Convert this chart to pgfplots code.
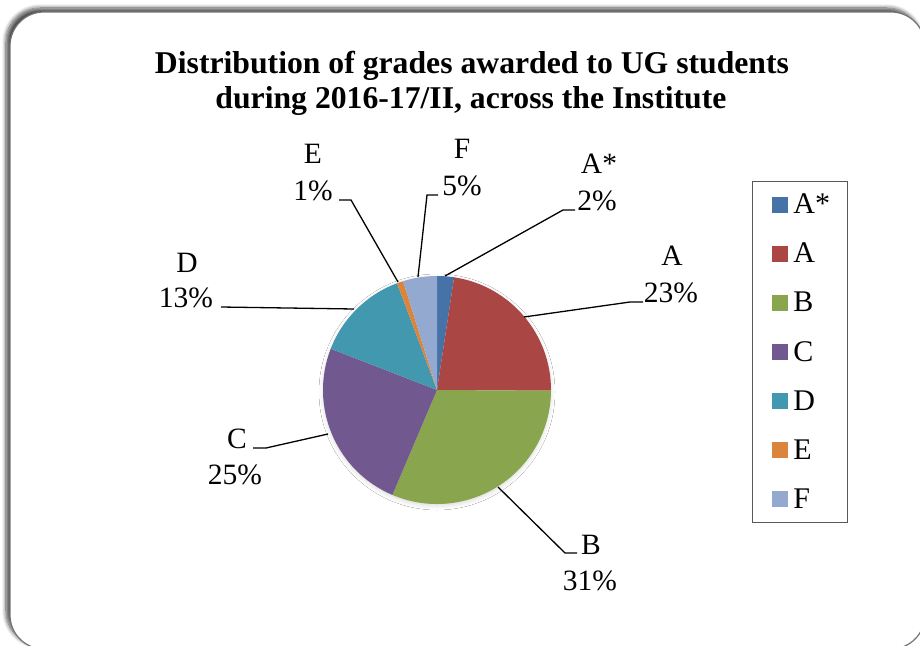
\documentclass[border=0pt]{standalone}
\usepackage{pgfplots}
\pgfplotsset{compat=1.18}
\usepackage{pgfplotstable}
\usepackage{fontspec}
\setmainfont{Liberation Serif}
\usetikzlibrary{shadows.blur}
\definecolor{cAs}{HTML}{4572A7}
\definecolor{cA}{HTML}{AA4643}
\definecolor{cB}{HTML}{89A54E}
\definecolor{cC}{HTML}{71588F}
\definecolor{cD}{HTML}{4198AF}
\definecolor{cE}{HTML}{DB843D}
\definecolor{cF}{HTML}{93A9CF}
\pgfplotstableread{
grade value col
A* 2.4 cAs
A 22.7 cA
B 31.3 cB
C 24.5 cC
D 13.4 cD
E 0.9 cE
F 4.8 cF
}\piedata
\newcommand{\lblfont}{\fontsize{29.5}{36}\selectfont}
\begin{document}
\begin{tikzpicture}[x=1pt,y=1pt]
\useasboundingbox (0,0) rectangle (920,645);
\draw[rounded corners=34pt, line width=1.2pt, draw=black!55, fill=white,
  blur shadow={shadow xshift=-4pt, shadow yshift=4pt, shadow blur radius=4pt, shadow blur steps=8, shadow opacity=70}]
  (10,-4) rectangle (925,633);
\begin{axis}[at={(0,0)}, anchor=south west, width=920pt, height=645pt, scale only axis,
  xmin=0, xmax=920, ymin=0, ymax=645, y dir=reverse, hide axis, clip=false,
  legend style={at={(axis cs:752,181)}, anchor=north west, draw=black!65, line width=0.8pt,
    font=\fontsize{30}{32}\selectfont, inner xsep=0pt, inner ysep=10.5pt,
    row sep=23.9pt, cells={anchor=west}},
  legend image code/.code={\path[draw=none,fill=none] (0pt,0pt) rectangle (39pt,0pt);
    \fill[#1,draw=none] (20pt,-8pt) rectangle (36pt,8pt);},
]
\fill[white, blur shadow={shadow xshift=0pt, shadow yshift=-2pt, shadow blur radius=5pt, shadow opacity=18}]
  (axis cs:437,390) circle[radius=113pt];
\pgfmathsetmacro{\cum}{0}
\pgfplotsforeachungrouped \i in {0,...,6}{%
  \pgfplotstablegetelem{\i}{value}\of\piedata \let\v=\pgfplotsretval
  \pgfplotstablegetelem{\i}{col}\of\piedata \let\c=\pgfplotsretval
  \pgfmathsetmacro{\sa}{90-3.6*\cum}%
  \pgfmathsetmacro{\ea}{90-3.6*(\cum+\v)}%
  \edef\temp{\noexpand\fill[fill=\c] (axis cs:437,390) -- ++(\sa:114pt) arc[start angle=\sa, end angle=\ea, radius=114pt] -- cycle;}%
  \temp
  \pgfmathsetmacro{\cum}{\cum+\v}%
}
\addlegendimage{fill=cAs}\addlegendentry{A*\hspace*{15pt}}
\addlegendimage{fill=cA}\addlegendentry{A}
\addlegendimage{fill=cB}\addlegendentry{B}
\addlegendimage{fill=cC}\addlegendentry{C}
\addlegendimage{fill=cD}\addlegendentry{D}
\addlegendimage{fill=cE}\addlegendentry{E}
\addlegendimage{fill=cF}\addlegendentry{F}
% leader lines
\draw[line width=1.3pt] (axis cs:398,282) -- (axis cs:351,200) -- (axis cs:339,200);
\draw[line width=1.3pt] (axis cs:418,277) -- (axis cs:427,195) -- (axis cs:438,195);
\draw[line width=1.3pt] (axis cs:445,276) -- (axis cs:563,210) -- (axis cs:575,210);
\draw[line width=1.3pt] (axis cs:524,317) -- (axis cs:630,302) -- (axis cs:643,302);
\draw[line width=1.3pt] (axis cs:354,309) -- (axis cs:221,307);
\draw[line width=1.3pt] (axis cs:328,434) -- (axis cs:266,448) -- (axis cs:253,448);
\draw[line width=1.3pt] (axis cs:498,487) -- (axis cs:565,553) -- (axis cs:577,553);
% data labels
\node[anchor=base, font=\lblfont] at (axis cs:313,163) {E};
\node[anchor=base, font=\lblfont] at (axis cs:313,200) {1\%};
\node[anchor=base, font=\lblfont] at (axis cs:462,158) {F};
\node[anchor=base, font=\lblfont] at (axis cs:462,195) {5\%};
\node[anchor=base, font=\lblfont] at (axis cs:599,173) {A*};
\node[anchor=base, font=\lblfont] at (axis cs:597,210) {2\%};
\node[anchor=base, font=\lblfont] at (axis cs:672,265) {A};
\node[anchor=base, font=\lblfont] at (axis cs:671,302) {23\%};
\node[anchor=base, font=\lblfont] at (axis cs:187,272) {D};
\node[anchor=base, font=\lblfont] at (axis cs:186,307) {13\%};
\node[anchor=base, font=\lblfont] at (axis cs:237,448) {C};
\node[anchor=base, font=\lblfont] at (axis cs:235,484) {25\%};
\node[anchor=base, font=\lblfont] at (axis cs:591,554) {B};
\node[anchor=base, font=\lblfont] at (axis cs:590,590) {31\%};
% title
\node[anchor=base, font=\fontsize{31.7}{35}\selectfont\bfseries] at (axis cs:472,73)
  {Distribution of grades awarded to UG students};
\node[anchor=base, font=\fontsize{31.7}{35}\selectfont\bfseries] at (axis cs:471,108)
  {during 2016-17/II, across the Institute};
\end{axis}
\end{tikzpicture}
\end{document}
